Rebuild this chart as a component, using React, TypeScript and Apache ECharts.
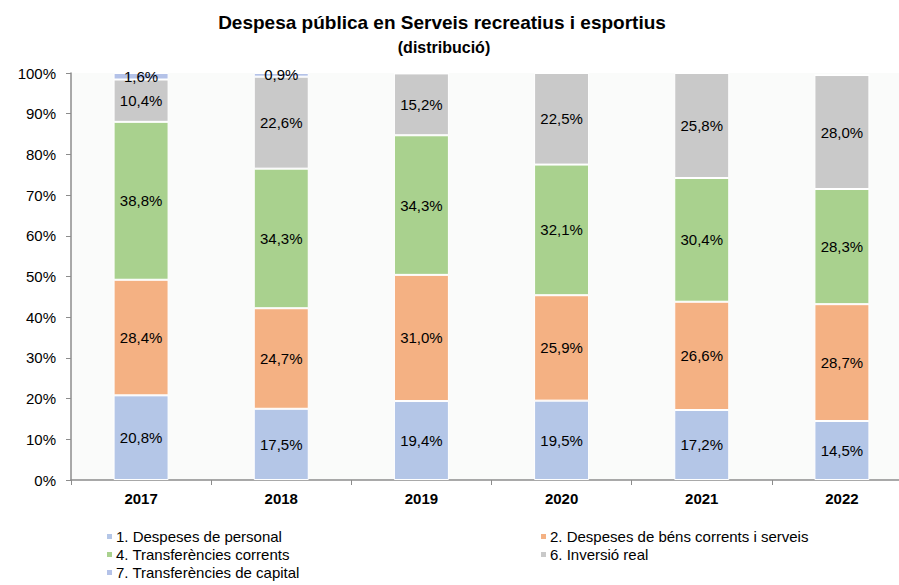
import React, { useEffect, useRef } from "react";
import * as echarts from "echarts";

const categories = ["2017", "2018", "2019", "2020", "2021", "2022"];
const personal = [20.8, 17.5, 19.4, 19.5, 17.2, 14.5];
const bens = [28.4, 24.7, 31.0, 25.9, 26.6, 28.7];
const transfCorrents = [38.8, 34.3, 34.3, 32.1, 30.4, 28.3];
const inversio = [10.4, 22.6, 15.2, 22.5, 25.8, 28.0];
const transfCapital = [1.6, 0.9, 0, 0, 0, 0];
const yTicks = [0, 10, 20, 30, 40, 50, 60, 70, 80, 90, 100];

const seriesNames = [
  "1. Despeses de personal",
  "2. Despeses de béns corrents i serveis",
  "4. Transferències corrents",
  "6. Inversió real",
  "7. Transferències de capital",
];
const seriesData = [personal, bens, transfCorrents, inversio, transfCapital];
const colors = ["#b4c6e7", "#f4b183", "#a9d18e", "#c9c9c9", "#b4c2e8"];

const FONT = "'Liberation Sans', Arial, sans-serif";

export default function App() {
  const ref = useRef<HTMLDivElement>(null);
  useEffect(() => {
    document.body.style.margin = "0";
    const chart = echarts.init(ref.current!, null, { renderer: "svg" });
    const legendCommon = {
      orient: "vertical",
      top: 524,
      height: 80,
      itemWidth: 7,
      itemHeight: 7,
      itemGap: 3,
      icon: "rect",
      textStyle: {
        fontSize: 15,
        color: "#000",
        fontFamily: FONT,
        padding: [0, 0, 0, -2],
      },
    };
    chart.setOption({
      animation: false,
      backgroundColor: "#ffffff",
      textStyle: { fontFamily: FONT },
      title: [
        {
          text: "Despesa pública en Serveis recreatius i esportius",
          left: 437,
          textAlign: "center",
          top: 8,
          textStyle: { fontSize: 19, fontWeight: "bold", color: "#000", fontFamily: FONT },
        },
        {
          text: "(distribució)",
          left: 439,
          textAlign: "center",
          top: 34,
          textStyle: { fontSize: 16, fontWeight: "bold", color: "#000", fontFamily: FONT },
        },
      ],
      legend: [
        {
          ...legendCommon,
          left: 100,
          data: [seriesNames[0], seriesNames[2], seriesNames[4]],
        },
        {
          ...legendCommon,
          left: 534,
          data: [seriesNames[1], seriesNames[3]],
        },
      ],
      grid: {
        left: 71,
        top: 73,
        bottom: 105,
        right: -13,
        outerBoundsMode: "none",
        containLabel: false,
        show: true,
        backgroundColor: "#fafbfa",
        borderWidth: 0,
      },
      xAxis: {
        type: "category",
        data: categories,
        axisLine: { show: true, lineStyle: { color: "#8c8c8c", width: 1.5 } },
        axisTick: { show: true, length: 5, lineStyle: { color: "#8c8c8c" } },
        axisLabel: {
          fontSize: 15,
          fontWeight: "bold",
          color: "#000",
          margin: 11,
          fontFamily: FONT,
        },
      },
      yAxis: {
        type: "value",
        min: 0,
        max: 100,
        interval: 10,
        splitLine: { show: false },
        axisLine: { show: true, lineStyle: { color: "#8c8c8c", width: 1.5 } },
        axisTick: { show: true, length: 5, lineStyle: { color: "#8c8c8c" } },
        axisLabel: {
          fontSize: 15,
          color: "#000",
          margin: 15,
          fontFamily: FONT,
          formatter: (v: number) => (yTicks.includes(v) ? `${v}%` : ""),
        },
      },
      series: seriesNames.map((name, i) => ({
        name,
        type: "bar",
        stack: "total",
        barWidth: 55,
        data: seriesData[i],
        itemStyle: { color: colors[i], borderColor: "#ffffff", borderWidth: 1 },
        label: {
          show: true,
          position: "inside",
          fontSize: 15,
          color: "#000",
          fontFamily: FONT,
          formatter: (p: any) =>
            p.value > 0 ? `${Number(p.value).toFixed(1).replace(".", ",")}%` : "",
        },
      })),
    });
    return () => chart.dispose();
  }, []);
  return <div ref={ref} style={{ width: 899, height: 585 }} />;
}
